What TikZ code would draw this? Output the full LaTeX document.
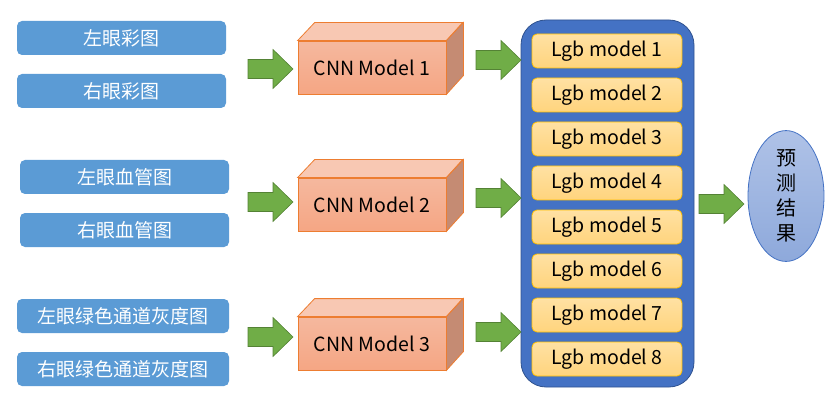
\documentclass[tikz,border=0pt]{standalone}
\usepackage{fontspec}
\setmainfont{Noto Sans CJK SC}
\usetikzlibrary{positioning,calc,shapes.geometric}
\definecolor{inblue}{HTML}{5B9BD5}
\definecolor{cnnedge}{HTML}{ED7D31}
\definecolor{cnntop}{HTML}{F5B89E}
\definecolor{cnnbot}{HTML}{F5A684}
\definecolor{cnnlid}{HTML}{F8C8B3}
\definecolor{cnnside}{HTML}{C58B73}
\definecolor{gfill}{HTML}{70AD47}
\definecolor{gedge}{HTML}{548235}
\definecolor{poolfill}{HTML}{4472C4}
\definecolor{pooledge}{HTML}{2F528F}
\definecolor{lgbtop}{HTML}{FFE1A3}
\definecolor{lgbbot}{HTML}{FFD47D}
\definecolor{lgbedge}{HTML}{FFC000}
\definecolor{restop}{HTML}{AFC2E7}
\definecolor{resbot}{HTML}{8EA9DB}
\tikzset{
  txt/.style={font=\fontsize{19.5}{22}\selectfont},
  inbox/.style={font=\fontsize{19}{22}\selectfont, fill=inblue, text=white, rounded corners=5pt, minimum width=209pt, minimum height=34pt, inner sep=0pt},
  cnnface/.style={txt, draw=cnnedge, line width=0.8pt, top color=cnntop, bottom color=cnnbot, minimum width=148pt, minimum height=53pt, inner sep=0pt},
  lid/.style={draw=cnnedge, line width=0.8pt, fill=cnnlid},
  side/.style={draw=cnnedge, line width=0.8pt, fill=cnnside},
  pool/.style={draw=pooledge, line width=0.8pt, fill=poolfill, rounded corners=25pt, minimum width=173pt, minimum height=367pt},
  lgb/.style={txt, draw=lgbedge, line width=0.8pt, top color=lgbtop, bottom color=lgbbot, rounded corners=5pt, minimum width=150pt, minimum height=34pt, inner sep=0pt},
  result/.style={ellipse, draw=poolfill, line width=0.8pt, top color=restop, bottom color=resbot, minimum width=76pt, minimum height=121pt, inner sep=0pt, align=center, font=\fontsize{20}{25}\selectfont},
  garrow/.pic={\draw[draw=gedge, line width=0.6pt, fill=gfill] (0,-9.5) -- (25,-9.5) -- (25,-19.5) -- (45,0) -- (25,19.5) -- (25,9.5) -- (0,9.5) -- cycle;},
}
\begin{document}
\begin{tikzpicture}[x=1pt, y=-1pt]
\useasboundingbox (0,0) rectangle (840,414);
% input images
\node[inbox] (colL) at (121.5,38) {左眼彩图};
\node[inbox] (colR) at (121.5,91) {右眼彩图};
\node[inbox] (vesL) at (124.5,177) {左眼血管图};
\node[inbox] (vesR) at (124.5,230) {右眼血管图};
\node[inbox, minimum width=212pt] (grnL) at (123,316) {左眼绿色通道灰度图};
\node[inbox, minimum width=212pt] (grnR) at (123,369) {右眼绿色通道灰度图};
% CNN models as cuboids
\foreach \i/\y in {1/67.5, 2/204.5, 3/343.5} {
  \node[cnnface] (cnn\i) at (372,\y) {CNN Model \i};
  \draw[lid] (cnn\i.north west) -- ++(17,-18) -- ++(148,0) -- (cnn\i.north east) -- cycle;
  \draw[side] (cnn\i.north east) -- ++(17,-18) -- ++(0,53) -- (cnn\i.south east) -- cycle;
}
% lgb ensemble
\node[pool] (pool) at (607.5,203.5) {};
\foreach \i in {1,...,8} {
  \node[lgb] (lgb\i) at (607,{51+44*(\i-1)}) {Lgb model \i};
}
\node[result] (res) at (786,196) {预\\测\\结\\果};
% block arrows
\pic at (248,69) {garrow};
\pic at (248,202) {garrow};
\pic at (248,337) {garrow};
\pic at (476,60) {garrow};
\pic at (476,198) {garrow};
\pic at (476,332) {garrow};
\pic at (699,204) {garrow};
\end{tikzpicture}
\end{document}
